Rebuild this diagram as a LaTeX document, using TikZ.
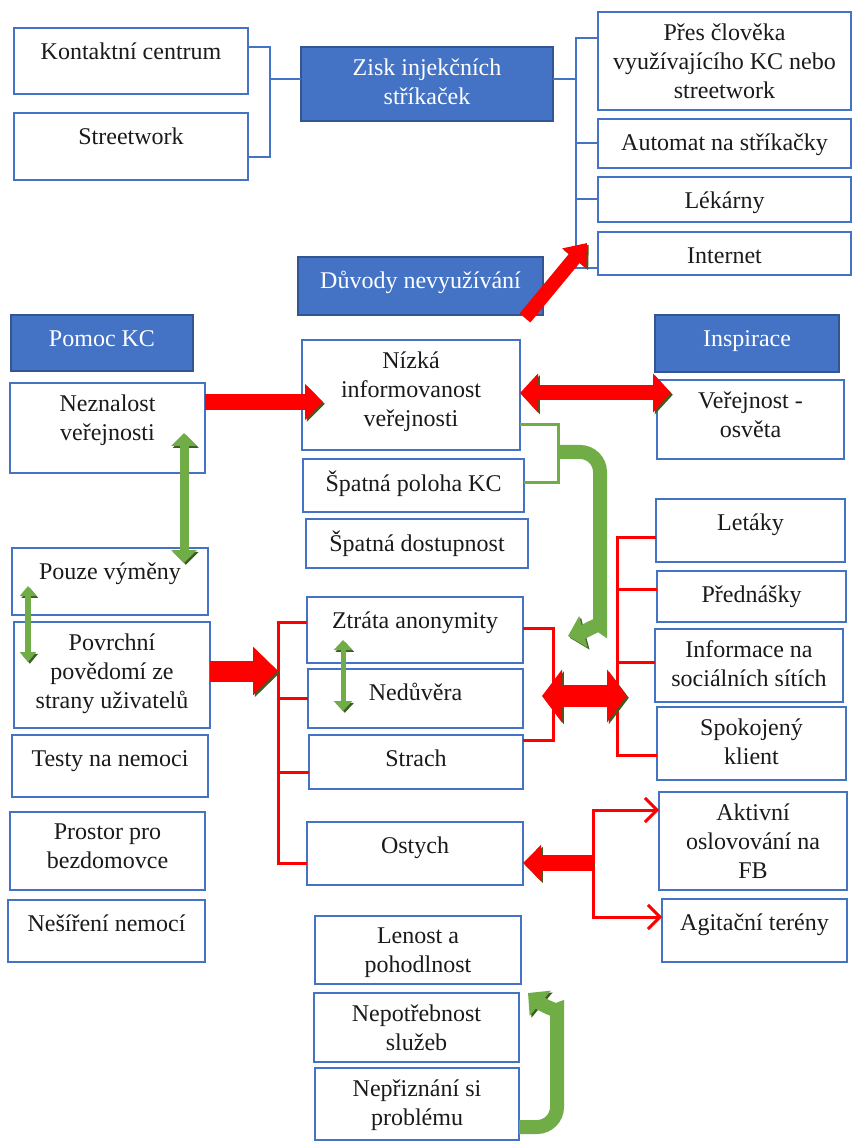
\documentclass[tikz,border=0pt]{standalone}
\usepackage{fontspec}
\setmainfont{Liberation Serif}
\usetikzlibrary{arrows.meta,positioning,fit}
\definecolor{frame}{HTML}{4472C4}
\definecolor{leaf}{HTML}{70AD47}
\definecolor{shade}{HTML}{3B5E24}
\definecolor{ink}{HTML}{1A1A1A}

\tikzset{
  cell/.style={draw=frame, line width=0.6pt, fill=white, inner sep=0pt, outer sep=0pt},
  head/.style={cell, draw=frame!75!black, fill=frame},
  txt/.style={inner sep=0pt, align=center, text=ink,
    font=\fontsize{12}{14.5}\selectfont, execute at begin node=\strut},
  link/.style={draw=frame, line width=1pt},
  redlink/.style={draw=red, line width=1.5pt},
  greenlink/.style={draw=leaf, line width=1.5pt},
  bigred/.style={draw=red, line width=#1,
    preaction={draw=shade, transform canvas={shift={(0.9pt,-0.9pt)}}}},
  biggreen/.style={draw=leaf, line width=#1,
    preaction={draw=shade, transform canvas={shift={(0.9pt,-0.9pt)}}}},
}

\begin{document}
\begin{tikzpicture}[x=0.5pt, y=-0.5pt]
  \useasboundingbox[fill=white] (0,0) rectangle (853,1143);

  % white boxes
  \foreach \nm/\xa/\ya/\xb/\yb/\txt in {
    kc/14/28/248/94/{Kontaktní centrum},
    sw/14/113/248/180/{Streetwork},
    pres/598/12/851/110/{Přes člověka\\využívajícího KC nebo\\streetwork},
    auto/598/119/851/168/{Automat na stříkačky},
    lek/598/177/851/222/{Lékárny},
    inet/598/232/851/275/{Internet},
    nezn/10/383/205/473/{Neznalost\\veřejnosti},
    nizka/302/340/520/450/{Nízká\\informovanost\\veřejnosti},
    poloha/303/459/524/512/{Špatná poloha KC},
    dost/306/519/528/568/{Špatná dostupnost},
    verej/657/380/844/459/{Veřejnost -\\osvěta},
    pouze/12/548/208/615/{Pouze výměny},
    povr/14/622/210/728/{Povrchní\\povědomí ze\\strany uživatelů},
    testy/12/735/208/797/{Testy na nemoci},
    prostor/10/812/205/890/{Prostor pro\\bezdomovce},
    nesir/8/900/205/962/{Nešíření nemocí},
    ztrata/307/597/523/663/{Ztráta anonymity},
    nedu/308/669/523/728/{Nedůvěra},
    strach/309/735/523/789/{Strach},
    ostych/307/822/523/885/{Ostych},
    letaky/656/499/845/562/{Letáky},
    pred/657/571/846/622/{Přednášky},
    info/655/629/843/702/{Informace na\\sociálních sítích},
    spok/657/707/846/780/{Spokojený\\klient},
    akt/659/792/847/890/{Aktivní\\oslovování na\\FB},
    agit/662/899/847/962/{Agitační terény},
    lenost/315/916/521/984/{Lenost a\\pohodlnost},
    nepot/314/993/519/1062/{Nepotřebnost\\služeb},
    nepriz/315/1068/519/1140/{Nepřiznání si\\problému}}
  {
    \node[cell, fit={(\xa,\ya) (\xb,\yb)}] (\nm) {};
    \node[txt, below=5.5pt of \nm.north] (\nm-t) {\txt};
  }

  % blue headers
  \foreach \nm/\xa/\ya/\xb/\yb/\txt in {
    zisk/301/47/553/121/{Zisk injekčních\\stříkaček},
    duv/298/257/543/315/{Důvody nevyužívání},
    pomoc/11/315/193/371/{Pomoc KC},
    insp/655/315/839/372/{Inspirace}}
  {
    \node[head, fit={(\xa,\ya) (\xb,\yb)}] (\nm) {};
    \node[txt, text=white, below=5.5pt of \nm.north] (\nm-t) {\txt};
  }

  % blue brackets
  \coordinate (jk) at (270,79);
  \draw[link] ([yshift=7pt]kc.east) -| (jk) |- ([yshift=-5.25pt]sw.east);
  \draw[link] (jk) -- (jk -| zisk.west);
  \coordinate (jz) at (576,79);
  \draw[link] (jz -| zisk.east) -- (jz);
  \draw[link] ([yshift=11.5pt]pres.west) -| (jz) |- ([yshift=-7.25pt]inet.west);
  \draw[link] (jz |- auto.west) -- (auto.west);
  \draw[link] (jz |- lek.west) -- (lek.west);

  % red brackets
  \coordinate (jp) at (278,671);
  \draw[redlink] ([yshift=4pt]ztrata.west) -| (jp) |- ([yshift=-4.75pt]ostych.west);
  \draw[redlink] (nedu.west) -| (jp);
  \draw[redlink] ([yshift=-5pt]strach.west) -| (jp);
  \coordinate (jq) at (553,696);
  \draw[redlink] ([yshift=1pt]ztrata.east) -| (jq) |- ([yshift=11pt]strach.east);
  \coordinate (js) at (617,696);
  \draw[redlink] ([yshift=-3.25pt]letaky.west) -| (js) |- ([yshift=-5.75pt]spok.west);
  \draw[redlink] ([yshift=3.75pt]pred.west) -| (js);
  \draw[redlink] ([yshift=1.75pt]info.west) -| (js);
  \coordinate (fork) at (593,863);
  \draw[redlink, -{Straight Barb[length=6pt,width=12pt]}] (fork) |- ([yshift=15.5pt]akt.west);
  \draw[redlink, -{Straight Barb[length=6pt,width=12pt]}] (fork) |- ([yshift=6.75pt]agit.west);

  % thick red arrows
  \draw[bigred=7pt, -{Triangle[length=10pt,width=15pt]}]
    ([shift={(-9pt,-1.5pt)}]duv.south east) -- ([shift={(-5.5pt,5.25pt)}]inet.west);
  \draw[bigred=8pt, -{Triangle[length=9pt,width=17.5pt]}]
    ([yshift=13pt]nezn.east) -- ([shift={(10.5pt,-3.5pt)}]nizka.west);
  \draw[bigred=7.5pt, {Triangle[length=9pt,width=19pt]}-{Triangle[length=9pt,width=19pt]}]
    ([yshift=1pt]nizka.east) -- ([shift={(7pt,13.25pt)}]verej.west);
  \draw[bigred=10.5pt, -{Triangle[length=12.5pt,width=23.5pt]}] ([yshift=2pt]povr.east) -- (jp);
  \draw[bigred=11pt, {Triangle[length=10pt,width=26pt]}-{Triangle[length=10pt,width=26pt]}]
    ([xshift=-5.5pt]jq) -- ([xshift=5pt]js);
  \draw[bigred=8pt, -{Triangle[length=9pt,width=17.5pt]}] (fork) -- (ostych.east |- fork);

  % green links
  \coordinate (jg) at (558,452);
  \draw[greenlink] ([yshift=-15pt]nizka.east) -| (jg) |- ([yshift=1.75pt]poloha.east);
  \coordinate (gt) at (568,636);
  \draw[biggreen=7pt, -{Triangle[length=8pt,width=16pt]}]
    (jg) [rounded corners=10pt] -| (600,605) [sharp corners] to[out=-90,in=15] (gt);
  \coordinate (gb) at (528,993);
  \draw[biggreen=7pt, -{Triangle[length=8pt,width=16pt]}]
    ([yshift=-11.5pt]nepriz.east) [rounded corners=10pt] -| (557,1030) [sharp corners]
    to[out=90,in=-40] (gb);
  \draw[biggreen=4.5pt, {Triangle[length=6.5pt,width=12.5pt]}-{Triangle[length=6.5pt,width=12.5pt]}]
    ([shift={(-10.5pt,20pt)}]nezn.south east) -- ([shift={(-12pt,-7.5pt)}]pouze.north east);
  \draw[biggreen=3pt, {Triangle[length=5pt,width=8pt]}-{Triangle[length=5pt,width=8pt]}]
    ([shift={(8pt,14.5pt)}]pouze.south west) -- ([shift={(7pt,-20pt)}]povr.north west);
  \draw[biggreen=2.5pt, {Triangle[length=5pt,width=9pt]}-{Triangle[length=5pt,width=9pt]}]
    ([shift={(18pt,11.5pt)}]ztrata.south west) -- ([shift={(17.5pt,8.5pt)}]nedu.south west);
\end{tikzpicture}
\end{document}
